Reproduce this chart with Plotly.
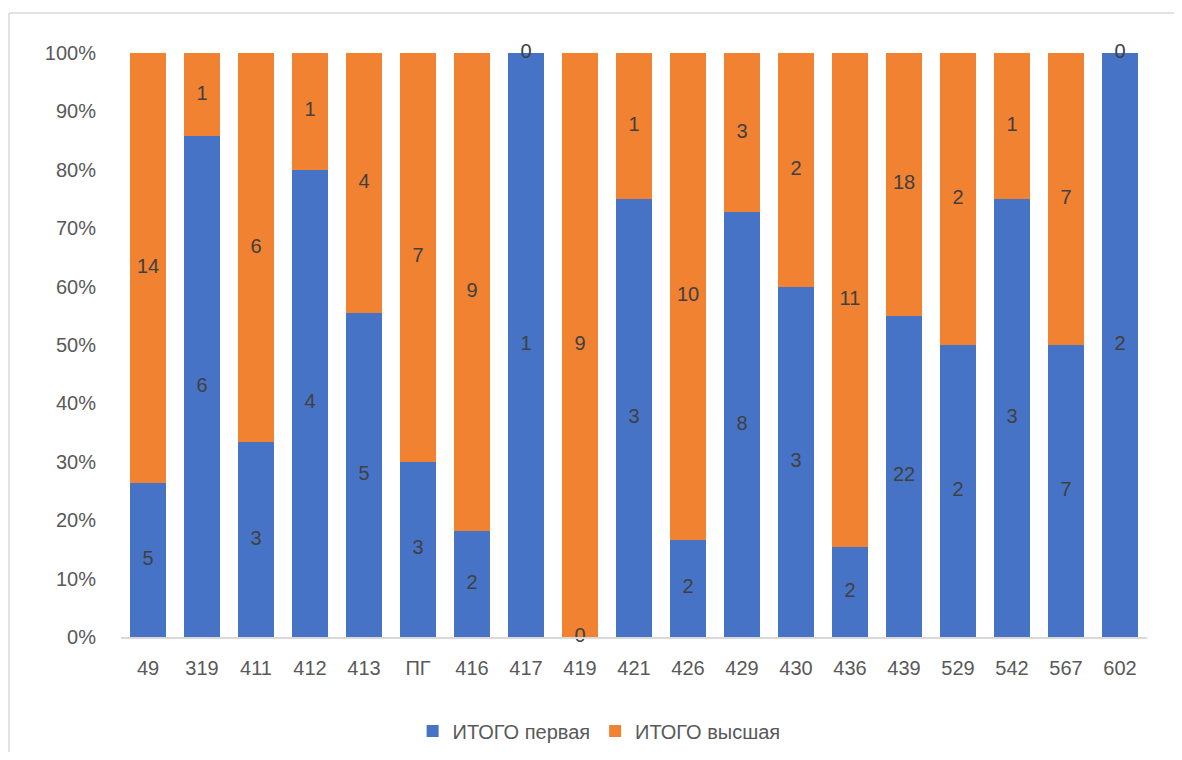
import numpy as np
import plotly.graph_objects as go

categories = ["49", "319", "411", "412", "413", "ПГ", "416", "417", "419", "421",
              "426", "429", "430", "436", "439", "529", "542", "567", "602"]
first = [5, 6, 3, 4, 5, 3, 2, 1, 0, 3, 2, 8, 3, 2, 22, 2, 3, 7, 2]
highest = [14, 1, 6, 1, 4, 7, 9, 0, 9, 1, 10, 3, 2, 11, 18, 2, 1, 7, 0]
series_names = ["ИТОГО первая", "ИТОГО высшая"]
y_ticks = [0, 10, 20, 30, 40, 50, 60, 70, 80, 90, 100]

f = np.array(first, dtype=float)
h = np.array(highest, dtype=float)
tot = f + h
fp = f / tot * 100
hp = h / tot * 100

BLUE = "#4673C6"
ORANGE = "#F08232"
FONT = "Liberation Sans"

W, H = 1166, 744
L, R, T, B = 113, 27, 45, 115
plot_w = W - L - R
plot_h = H - T - B

fig = go.Figure()
fig.add_trace(go.Bar(x=categories, y=fp, name=series_names[0], marker_color=BLUE,
                     marker_line_width=0, hoverinfo="skip"))
fig.add_trace(go.Bar(x=categories, y=hp, name=series_names[1], marker_color=ORANGE,
                     marker_line_width=0, hoverinfo="skip"))

fig.add_trace(go.Scatter(x=categories, y=fp / 2, mode="text", text=[str(v) for v in first],
                         textfont=dict(size=20, color="#404040", family=FONT),
                         showlegend=False, hoverinfo="skip", cliponaxis=False))
fig.add_trace(go.Scatter(x=categories, y=fp + hp / 2, mode="text", text=[str(v) for v in highest],
                         textfont=dict(size=20, color="#404040", family=FONT),
                         showlegend=False, hoverinfo="skip", cliponaxis=False))

bx0 = (1 - L) / plot_w
by1 = (T + plot_h - 5) / plot_h
border = dict(color="#D9D9D9", width=1.5)
fig.update_layout(
    width=W, height=H,
    barmode="stack", bargap=0.35,
    paper_bgcolor="white", plot_bgcolor="white",
    margin=dict(l=L, r=R, t=T, b=B, autoexpand=False),
    font=dict(family=FONT, size=20, color="#595959"),
    showlegend=True,
    legend=dict(orientation="h", x=0.466, xanchor="center", y=-0.161, yanchor="middle",
                font=dict(size=20, color="#595959"), traceorder="normal"),
    shapes=[
        dict(type="line", xref="paper", yref="paper", x0=bx0, x1=1.2, y0=by1, y1=by1,
             line=border, layer="below"),
        dict(type="line", xref="paper", yref="paper", x0=bx0, x1=bx0, y0=-0.3, y1=by1,
             line=border, layer="below"),
    ],
)
fig.update_xaxes(type="category", range=[-0.5, len(categories) - 0.5], showgrid=False,
                 showline=True, linecolor="#D9D9D9", linewidth=1.5, automargin=False,
                 ticks="", tickfont=dict(size=20, color="#595959"), ticklabelstandoff=12)
fig.update_yaxes(range=[0, 100], tickvals=y_ticks, ticktext=[f"{t}%" for t in y_ticks],
                 showgrid=False, zeroline=False, showline=False, ticks="", automargin=False,
                 tickfont=dict(size=20, color="#595959"), ticklabelstandoff=24)

fig.write_html("out.html")
